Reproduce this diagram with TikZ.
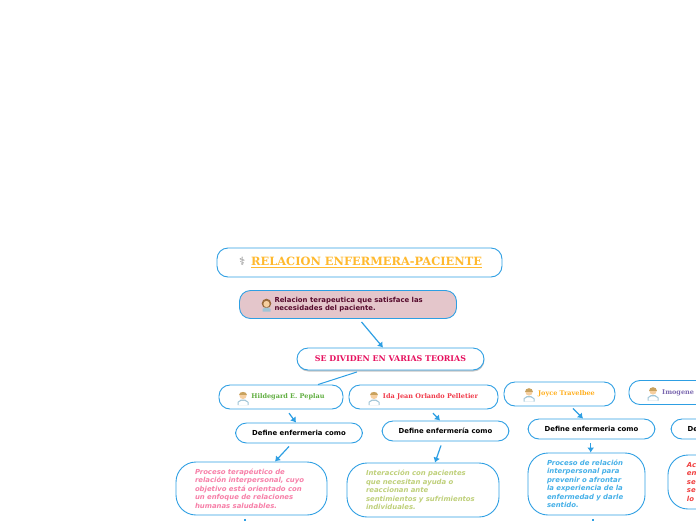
\documentclass[tikz,border=0pt]{standalone}
\usepackage{fontspec}
\setmainfont{DejaVu Sans}
\newfontfamily\slabfont{DejaVu Serif}
\usetikzlibrary{arrows.meta,shadows}
\definecolor{linkblue}{HTML}{2E9FE3}
\definecolor{relfill}{HTML}{E4C6CB}
\definecolor{reltext}{HTML}{560A2C}
\definecolor{titlegold}{HTML}{FFB92E}
\definecolor{teoriared}{HTML}{E6105E}
\definecolor{peplaugreen}{HTML}{5FAE3F}
\definecolor{idared}{HTML}{F03A4A}
\definecolor{joycegold}{HTML}{FFB020}
\definecolor{imogeneblue}{HTML}{7B68B0}
\definecolor{textpink}{HTML}{F77FA8}
\definecolor{textolive}{HTML}{BFD07A}
\definecolor{textsky}{HTML}{45B0E8}
\definecolor{textred}{HTML}{F04040}
\definecolor{skintone}{HTML}{F6CFA0}
\definecolor{hairtan}{HTML}{C9A25E}
\definecolor{hairbrown}{HTML}{9A6A3C}
\definecolor{coatgrey}{HTML}{9FC4D6}
\tikzset{
  boxnode/.style={draw=linkblue, line width=0.9pt, fill=white, rounded corners=11pt, inner sep=0pt, align=center},
  namebox/.style={boxnode, minimum height=24pt, font=\slabfont\bfseries\fontsize{6.5}{8}\selectfont},
  definebox/.style={boxnode, minimum width=127pt, minimum height=20pt, font=\bfseries\fontsize{6.9}{8}\selectfont},
  textbox/.style={boxnode, rounded corners=20pt, align=left, inner xsep=19pt, font=\bfseries\itshape\fontsize{6.9}{8.5}\selectfont},
  link/.style={linkblue, line width=1.2pt, -{Latex[length=5pt,width=7pt]}},
  pics/medic/.style={code={
    \fill[coatgrey] (-5.5,7) -- (-5.5,4) -- (-2,1.5) -- (2,1.5) -- (5.5,4) -- (5.5,7) -- cycle;
    \fill[white] (-4.5,7) -- (-4.5,4.5) -- (-1.5,2.8) -- (1.5,2.8) -- (4.5,4.5) -- (4.5,7) -- cycle;
    \fill[skintone] (0,-2.5) circle (3.6);
    \fill[hairtan] (-3.6,-3) .. controls (-3.6,-7.5) and (3.6,-7.5) .. (3.6,-3) -- cycle;
  }},
  pics/nurse/.style={code={
    \fill[hairbrown] (0,-1) circle (4.8);
    \fill[coatgrey] (-4,7) -- (-4,4.5) -- (-1.5,3) -- (1.5,3) -- (4,4.5) -- (4,7) -- cycle;
    \fill[skintone] (0,-0.5) circle (3.1);
  }}
}
\begin{document}
\begin{tikzpicture}[x=1pt,y=-1pt]
  \useasboundingbox (0,0) rectangle (696,520);
  \clip (0,0) rectangle (696,520);
  % top of the map
  \node[boxnode, minimum width=285pt, minimum height=29pt, font=\slabfont\bfseries\fontsize{11.4}{12}\selectfont, text=titlegold] (title) at (359.5,262.5)
    {\hspace*{2pt}{\fontspec{DejaVu Sans}\color{gray}\char"2695}\hspace{6pt}\underline{RELACION ENFERMERA-PACIENTE}};
  \node[boxnode, fill=relfill, minimum width=217pt, minimum height=28pt, align=left, font=\bfseries\fontsize{6.9}{8}\selectfont, text=reltext] (rel) at (348,304.5)
    {\hspace*{18pt}\parbox{165pt}{Relacion terapeutica que satisface las\\necesidades del paciente.}};
  \node[boxnode, minimum width=187pt, minimum height=22pt, font=\slabfont\bfseries\fontsize{7.9}{8}\selectfont, text=teoriared, drop shadow={shadow xshift=0.4pt, shadow yshift=-1.5pt, opacity=0.45}] (teorias) at (390.5,359) {SE DIVIDEN EN VARIAS TEORIAS};
  % names
  \node[namebox, minimum width=124pt, text=peplaugreen] (peplau) at (281,397) {\hspace*{14pt}Hildegard E. Peplau};
  \node[namebox, minimum width=149pt, text=idared] (ida) at (423.5,397) {\hspace*{14pt}Ida Jean Orlando Pelletier};
  \node[namebox, minimum width=111pt, text=joycegold] (joyce) at (559.5,394) {\hspace*{14pt}Joyce Travelbee};
  \node[namebox, minimum width=104pt, text=imogeneblue, anchor=west] (imogene) at (628.5,392.5) {\hspace*{14pt}Imogene King};
  % define boxes
  \node[definebox] (defpeplau) at (299,433) {Define enfermeria como};
  \node[definebox] (defida) at (445.5,431) {Define enfermería como};
  \node[definebox] (defjoyce) at (591.5,429) {Define enfermeria como};
  \node[definebox] (defimogene) at (734.5,429) {Define enfermeria como};
  % definitions
  \node[textbox, text width=113pt, minimum height=53pt, text=textpink] (txtpeplau) at (251.5,488.5)
    {Proceso terapéutico de\\relación interpersonal, cuyo\\objetivo está orientado con\\un enfoque de relaciones\\humanas saludables.};
  \node[textbox, text width=114pt, minimum height=54pt, text=textolive] (txtida) at (423,490)
    {Interacción con pacientes\\que necesitan ayuda o\\reaccionan ante\\sentimientos y sufrimientos\\individuales.};
  \node[textbox, text width=79pt, minimum height=62pt, text=textsky] (txtjoyce) at (586.5,484)
    {Proceso de relación\\interpersonal para\\prevenir o afrontar\\la experiencia de la\\enfermedad y darle\\sentido.};
  \node[textbox, text width=90pt, minimum height=54pt, text=textred, anchor=west] (txtimogene) at (667.5,482)
    {Ac\\en\\se\\se\\lo};
  % icons
  \foreach \iconx/\icony in {243/398, 374/398, 529/394.5, 653/393.5}
    \pic at (\iconx,\icony) {medic};
  \pic at (266.5,304.5) {nurse};
  % connectors
  \draw[linkblue, line width=1pt] ([shift={(-33.5,1.5)}]teorias.south) -- ([shift={(37,0)}]peplau.north);
  \foreach \a/\b/\ax/\ay/\bx in {rel/teorias/13.5/3/-7.5, peplau/defpeplau/8/3.7/-3, defpeplau/txtpeplau/-10/3/23.5,
      ida/defida/9.5/3.7/-5.5, defida/txtida/-4.5/4/12, joyce/defjoyce/13.5/2/-8.5, defjoyce/txtjoyce/-0.8/4/4.2}
    \draw[link] ([shift={(\ax,\ay)}]\a.south) -- ([shift={(\bx,0)}]\b.north);
  \coordinate (downpeplau) at (245,524);
  \coordinate (downjoyce) at (593,524);
  \draw[linkblue, line width=1.2pt] ([shift={(-6.5,3.5)}]txtpeplau.south) -- (downpeplau);
  \draw[linkblue, line width=1.2pt] ([shift={(6.5,3.5)}]txtjoyce.south) -- (downjoyce);
\end{tikzpicture}
\end{document}
